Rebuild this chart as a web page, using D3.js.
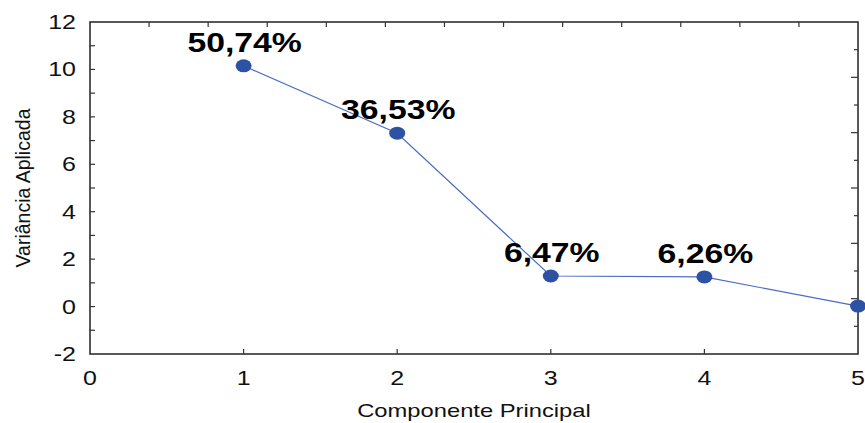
<!DOCTYPE html>
<html>
<head>
<meta charset="utf-8">
<script src="https://cdn.jsdelivr.net/npm/d3@7"></script>
<style>
  body { margin: 0; background: #fff; }
  svg { display: block; }
  text { font-family: Arial, "Liberation Sans", sans-serif; }
</style>
</head>
<body>
<svg width="865" height="423"></svg>
<script>
// data
let components = [1, 2, 3, 4, 5]
let variance = [10.15, 7.31, 1.29, 1.25, 0.02]
let percentLabels = ['50,74%', '36,53%', '6,47%', '6,26%', null]
let xTicks = [0, 1, 2, 3, 4, 5]
let yTicks = [-2, 0, 2, 4, 6, 8, 10, 12]

let svg = d3.select('svg')
let m = {left: 90, right: 7, top: 22, bottom: 69}
let W = 865, H = 423
let stretch = 1.25 // the source picture is widened horizontally

let x = d3.scaleLinear().domain([0, 5]).range([m.left, W - m.right])
let y = d3.scaleLinear().domain([-2, 12]).range([H - m.bottom, m.top])

// frame
svg.append('rect')
    .attr('x', x(0)).attr('y', y(12))
    .attr('width', x(5) - x(0)).attr('height', y(-2) - y(12))
    .attr('fill', 'none').attr('stroke', '#222').attr('stroke-width', 1.5)

// inward ticks on all sides
let g = svg.append('g').attr('stroke', '#333').attr('stroke-width', 1.2)
g.selectAll('.lt').data(d3.range(-1, 12)).enter().append('line')
    .attr('x1', x(0)).attr('x2', x(0) + 5)
    .attr('y1', d => y(d)).attr('y2', d => y(d))
g.selectAll('.bt').data([1, 2, 3, 4]).enter().append('line')
    .attr('x1', d => x(d)).attr('x2', d => x(d))
    .attr('y1', y(-2)).attr('y2', y(-2) - 5)

let xTop = d3.scaleLinear().domain([0, 13]).range(x.range())
g.selectAll('.tt').data(d3.range(1, 13)).enter().append('line')
    .attr('x1', d => xTop(d)).attr('x2', d => xTop(d))
    .attr('y1', y(12)).attr('y2', y(12) + 5)

let yRight = d3.scaleLinear().domain([0, 12]).range(y.range())
g.selectAll('.rt').data(d3.range(1, 12)).enter().append('line')
    .attr('x1', x(5)).attr('x2', d => x(5) - (d % 2 ? 4 : 7))
    .attr('y1', d => yRight(d)).attr('y2', d => yRight(d))

function stretchedText(sel, tx, ty) {
    return sel.attr('transform', `translate(${tx},${ty}) scale(${stretch},1)`)
}

// tick labels
yTicks.forEach(t => {
    stretchedText(svg.append('text'), x(0) - 14, y(t) + 7)
        .attr('text-anchor', 'end').attr('font-size', 20).attr('fill', '#111')
        .text(t)
})
xTicks.forEach(t => {
    stretchedText(svg.append('text'), x(t), y(-2) + 31)
        .attr('text-anchor', 'middle').attr('font-size', 20).attr('fill', '#111')
        .text(t)
})

// axis titles
stretchedText(svg.append('text'), (x(0) + x(5)) / 2, 417)
    .attr('text-anchor', 'middle').attr('font-size', 19).attr('fill', '#111')
    .text('Componente Principal')

svg.append('text')
    .attr('transform', `translate(30,${(y(12) + y(-2)) / 2}) rotate(-90)`)
    .attr('text-anchor', 'middle').attr('font-size', 19.5).attr('fill', '#111')
    .text('Variância Aplicada')

// series
let pts = components.map((c, i) => ({c: c, v: variance[i], label: percentLabels[i]}))

let line = d3.line().x(d => x(d.c)).y(d => y(d.v))
svg.append('path')
    .datum(pts)
    .attr('d', line)
    .attr('fill', 'none')
    .attr('stroke', '#4a6cc4')
    .attr('stroke-width', 1.2)

svg.append('g').selectAll('ellipse').data(pts).enter().append('ellipse')
    .attr('cx', d => x(d.c)).attr('cy', d => y(d.v))
    .attr('rx', 8).attr('ry', 6.5)
    .attr('fill', '#2d52a3')

pts.filter(d => d.label).forEach(d => {
    stretchedText(svg.append('text'), x(d.c) + 1, y(d.v) - 14)
        .attr('text-anchor', 'middle')
        .attr('font-size', 27).attr('font-weight', 'bold').attr('fill', '#000')
        .text(d.label)
})
</script>
</body>
</html>
